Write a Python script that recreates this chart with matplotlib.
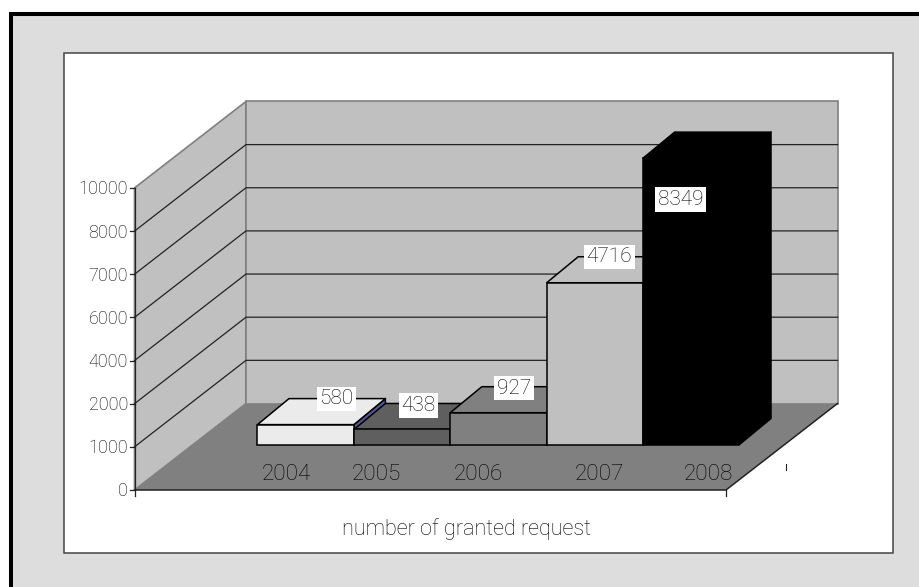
import matplotlib
matplotlib.use('Agg')
import matplotlib.pyplot as plt
from matplotlib.patches import Polygon, Rectangle

plt.rcParams['font.family'] = ['Roboto', 'Liberation Sans', 'DejaVu Sans']
plt.rcParams['font.weight'] = 'light'

# Chart data
years = ['2004', '2005', '2006', '2007', '2008']
granted = [580, 438, 927, 4716, 8349]
bar_colors = ['#ebebeb', '#5f5f5f', '#808080', '#c0c0c0', '#000000']
side_colors = ['#4f5a9e', '#5f5f5f', '#808080', '#c0c0c0', '#000000']
tick_labels = ['0', '1000', '2000', '4000', '6000', '7000', '8000', '10000']
xlabel = 'number of granted request'

W, H = 919, 587
fig = plt.figure(figsize=(W / 100, H / 100), dpi=100, facecolor='white')

# background layer in pixel units
bg = fig.add_axes([0, 0, 1, 1])
bg.set_xlim(0, W)
bg.set_ylim(H, 0)
bg.axis('off')

bg.add_patch(Rectangle((11, 14), W + 20, H + 20, fc='#dddddd', ec='black', lw=2.9))
bg.add_patch(Rectangle((63.5, 53), 829.5, 499.5, fc='white', ec='#444444', lw=1.1))

# 3D box of the chart: front-left corner, width, wall height and depth offset
x0, y0 = 134.5, 490
box_w, step = 591.5, 43.15
dx, dy = 111.5, -86.5
wall_h = step * 7
txt_col = '#000000'

bg.add_patch(Polygon([(x0, y0), (x0 + box_w, y0), (x0 + box_w + dx, y0 + dy), (x0 + dx, y0 + dy)],
                     fc='#808080', ec='none'))
bg.add_patch(Polygon([(x0, y0), (x0, y0 - wall_h), (x0 + dx, y0 + dy - wall_h), (x0 + dx, y0 + dy)],
                     fc='#c0c0c0', ec='#808080', lw=1.2))
bg.add_patch(Rectangle((x0 + dx, y0 + dy - wall_h), box_w, wall_h, fc='#c0c0c0', ec='#808080', lw=1.2))

for i, lab in enumerate(tick_labels):
    y = y0 - i * step
    if 0 < i < 7:
        bg.plot([x0, x0 + dx, x0 + dx + box_w], [y, y + dy, y + dy], color='#222222', lw=0.9)
    bg.plot([x0 - 5, x0], [y, y], color='#222222', lw=0.9)
    bg.text(x0 - 6.5, y + 1.5, lab, ha='right', va='center', fontsize=13, color=txt_col)

bg.plot([x0, x0], [y0, y0 - wall_h], color='#222222', lw=0.9)
bg.plot([x0, x0 + box_w, x0 + box_w + dx], [y0, y0, y0 + dy], color='#222222', lw=1.1)
bg.plot([x0, x0], [y0, y0 + 6], color='#222222', lw=0.9)
bg.plot([x0 + box_w, x0 + box_w], [y0, y0 + 6], color='#222222', lw=0.9)
bg.plot([785.5, 785.5], [464, 470], color='#222222', lw=0.8)
bg.text(466, 529, xlabel, ha='center', va='center', fontsize=15.6, color=txt_col)

# bar layer: x in category units, y in request counts
bar_left, bar_base = 257.5, 444.5
bar_w, px_per_req = 96.4, 0.0343
ax = fig.add_axes([0, 0, 1, 1])
ax.patch.set_alpha(0)
ax.axis('off')
ax.set_xlim(-bar_left / bar_w, (W - bar_left) / bar_w)
ax.set_ylim((bar_base - H) / px_per_req, bar_base / px_per_req)

depth_x = 31.5 / bar_w
depth_y = 26 / px_per_req
for i, (val, c, sc) in enumerate(zip(granted, bar_colors, side_colors)):
    edge = '#000000'
    ax.add_patch(Polygon([(i + 1, 0), (i + 1 + depth_x, depth_y), (i + 1 + depth_x, val + depth_y), (i + 1, val)],
                         fc=sc, ec=edge, lw=1.1, joinstyle='round'))
    ax.add_patch(Polygon([(i, val), (i + depth_x, val + depth_y), (i + 1 + depth_x, val + depth_y), (i + 1, val)],
                         fc=c, ec=edge, lw=1.1, joinstyle='round'))
    ax.bar(i, val, width=1, align='edge', color=c, edgecolor=edge, lw=1.1)

# data labels, given as offsets from the bar corner in pixels
label_pos = [(0.82, 45.5), (1.67, 39), (2.66, 56.5), (3.65, 187.5), (4.39, 245)]
for (lx, ly), val in zip(label_pos, granted):
    px = ly / px_per_req
    ax.text(lx, px, str(val), ha='center', va='center', fontsize=15, color=txt_col, zorder=5,
            bbox=dict(fc='white', ec='none', pad=1.9))

# category labels lie on the floor in front of the bars
for lab, px in zip(years, [286, 376, 478, 599, 708]):
    bg_x = (px - bar_left) / bar_w
    ax.text(bg_x, (bar_base - 474.5) / px_per_req, lab, ha='center', va='center', fontsize=16.2, color=txt_col, zorder=5)

fig.savefig('out.png', dpi=100, facecolor=fig.get_facecolor())
